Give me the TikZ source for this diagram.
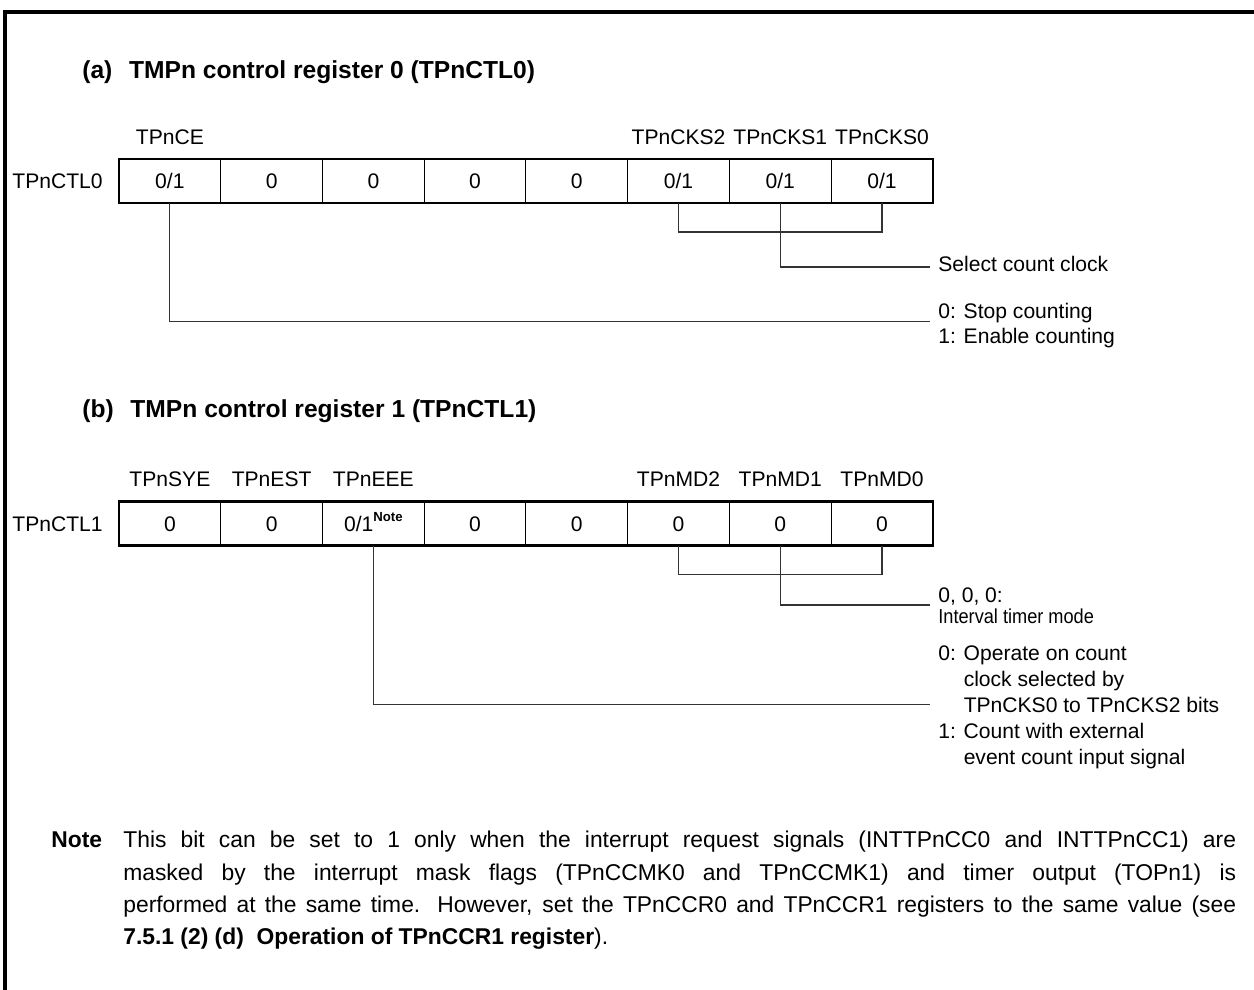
\documentclass[tikz,border=0pt,12pt]{standalone}
\usepackage{fontspec}
\setmainfont{Liberation Sans}
\newfontfamily\narrowfont[FakeStretch=0.9]{Liberation Sans}
\usetikzlibrary{positioning}
\tikzset{
  bitcell/.style={
    rectangle, draw, line width=0.6pt, outer sep=0pt, inner sep=0pt,
    minimum width=2.035cm, minimum height=0.88cm,
    text height=0.3cm, text depth=0cm
  },
  regframe/.style={line width=1.4pt},
  bitname/.style={inner sep=0pt, text height=0.3cm, text depth=0cm},
  regname/.style={inner sep=0pt, text height=0.3cm, text depth=0cm},
  brk/.style={line width=0.6pt, color=black!80},
  desc/.style={inner sep=0pt, align=left, anchor=north west},
  heading/.style={inner sep=0pt, anchor=base west, font=\fontsize{14}{16}\selectfont\bfseries},
}

\begin{document}
\begin{tikzpicture}[x=0.02cm, y=-0.02cm]
    \useasboundingbox (0,0) rectangle (1254,990);
    \draw[line width=2.2pt] (5,990) -- (5,12) -- (1254,12);

    % (a) TPnCTL0
    \node[heading] (ttla) at (82,79){(a)\hspace{0.68em}TMPn control register 0 (TPnCTL0)};

    \node[bitcell] (a7) at (169.9,181){0/1};
    \node[bitcell, right=0pt of a7] (a6){0};
    \node[bitcell, right=0pt of a6] (a5){0};
    \node[bitcell, right=0pt of a5] (a4){0};
    \node[bitcell, right=0pt of a4] (a3){0};
    \node[bitcell, right=0pt of a3] (a2){0/1};
    \node[bitcell, right=0pt of a2] (a1){0/1};
    \node[bitcell, right=0pt of a1] (a0){0/1};
    \draw[regframe] (a7.north west) rectangle (a0.south east);

    \node[regname, left=0.32cm of a7] (ctl0){TPnCTL0};
    \node[bitname, above=0.29cm of a7] (ce){TPnCE};
    \node[bitname, above=0.29cm of a2] (cks2){TPnCKS2};
    \node[bitname, above=0.29cm of a1] (cks1){TPnCKS1};
    \node[bitname, above=0.29cm of a0] (cks0){TPnCKS0};

    \coordinate (clk) at (930,267);
    \coordinate (cnt) at (930,321.5);
    \draw[brk] (a2.south) -- ++(0,29) -| (a0.south);
    \draw[brk] (a1.south) |- (clk);
    \draw[brk] (a7.south) |- (cnt);

    \node[inner sep=0pt, anchor=base west] (clktxt) at (938,271){Select count clock};
    \node[desc, font=\fontsize{12}{14.2}\selectfont] (cnttxt) at (938,303)
         {0: Stop counting\\1: Enable counting};

    % (b) TPnCTL1
    \node[heading] (ttlb) at (82,417){(b)\hspace{0.68em}TMPn control register 1 (TPnCTL1)};

    \node[bitcell] (b7) at (169.9,523.5){0};
    \node[bitcell, right=0pt of b7] (b6){0};
    \node[bitcell, right=0pt of b6] (b5){0/1\raisebox{5.3pt}{\fontsize{7.5}{8}\selectfont\bfseries Note}};
    \node[bitcell, right=0pt of b5] (b4){0};
    \node[bitcell, right=0pt of b4] (b3){0};
    \node[bitcell, right=0pt of b3] (b2){0};
    \node[bitcell, right=0pt of b2] (b1){0};
    \node[bitcell, right=0pt of b1] (b0){0};
    \draw[regframe] (b7.north west) rectangle (b0.south east);

    \node[regname, left=0.32cm of b7] (ctl1){TPnCTL1};
    \node[bitname, above=0.29cm of b7] (sye){TPnSYE};
    \node[bitname, above=0.29cm of b6] (est){TPnEST};
    \node[bitname, above=0.29cm of b5] (eee){TPnEEE};
    \node[bitname, above=0.29cm of b2] (md2){TPnMD2};
    \node[bitname, above=0.29cm of b1] (md1){TPnMD1};
    \node[bitname, above=0.29cm of b0] (md0){TPnMD0};

    \coordinate (mode) at (930,605);
    \coordinate (ext) at (930,704.5);
    \draw[brk] (b2.south) -- ++(0,29) -| (b0.south);
    \draw[brk] (b1.south) |- (mode);
    \draw[brk] (b5.south) |- (ext);

    \node[desc, font=\fontsize{12}{12.1}\selectfont] (modetxt) at (938,587.5)
         {0, 0, 0:\\{\narrowfont\fontsize{11.5}{12}\selectfont Interval timer mode}};
    \node[desc, font=\fontsize{12}{14.8}\selectfont] (exttxt) at (938,645.5)
         {0: Operate on count\\\hphantom{0: }clock selected by\\\hphantom{0: }TPnCKS0 to TPnCKS2 bits\\1: Count with external\\\hphantom{1: }event count input signal};

    % note
    \node[inner sep=0pt, anchor=base west, font=\fontsize{13}{15}\selectfont\bfseries] (notelbl) at (51,847){Note};
    \node[inner sep=0pt, anchor=north west, text width=22.26cm, align=justify,
          font=\fontsize{13}{18.3}\selectfont] (notetxt) at (123,831)
         {This bit can be set to 1 only when the interrupt request signals (INTTPnCC0 and INTTPnCC1) are\linebreak
          masked by the interrupt mask flags (TPnCCMK0 and TPnCCMK1) and timer output (TOPn1) is\linebreak
          performed at the same time.  However, set the TPnCCR0 and TPnCCR1 registers to the same value (see\linebreak
          \textbf{7.5.1 (2) (d)\ \ Operation of TPnCCR1 register}).};
\end{tikzpicture}
\end{document}
